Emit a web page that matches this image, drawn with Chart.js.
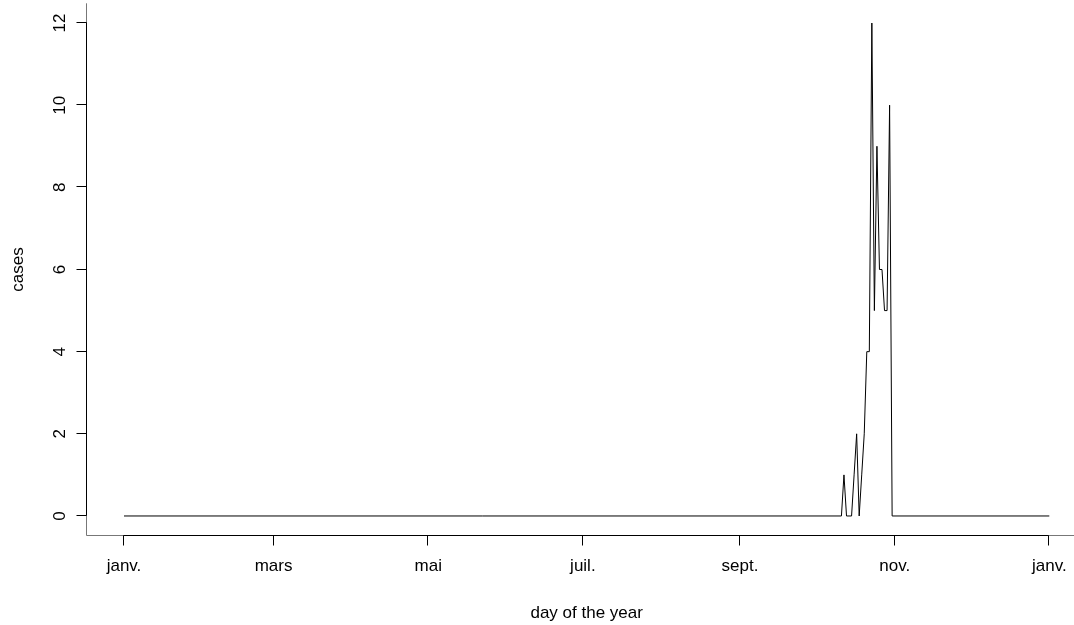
<!DOCTYPE html>
<html>
<head>
<meta charset="utf-8">
<script src="https://cdn.jsdelivr.net/npm/chart.js@4/dist/chart.umd.min.js"></script>
<style>
  html, body { margin: 0; padding: 0; background: #fff; }
  canvas { display: block; }
</style>
</head>
<body>
<canvas id="epi_curve" width="1074" height="625"></canvas>
<script>
// day of the year (0 = 1 Jan) and number of cases reported that day
const reportDays  = [0, 283, 284, 285, 286, 287, 288, 289, 290, 291, 292, 293, 294, 295, 296, 297, 298, 299, 300, 301, 302, 303, 365];
const reportCases = [0, 0, 1, 0, 0, 0, 1, 2, 0, 1, 2, 4, 4, 12, 5, 9, 6, 6, 5, 5, 10, 0, 0];

// month ticks on the x axis
const monthTickDays = [0, 59, 120, 181, 243, 304, 365];
const monthLabels = ['janv.', 'mars', 'mai', 'juil.', 'sept.', 'nov.', 'janv.'];

// y axis ticks
const caseTicks = [0, 2, 4, 6, 8, 10, 12];

const FONT = '17px "Liberation Sans", Arial, Helvetica, sans-serif';

// base-graphics style axes: L shaped box, outward ticks, rotated y labels
const baseAxes = {
    id: 'baseAxes',
    afterDraw(chart) {
        const ctx = chart.ctx;
        const area = chart.chartArea;
        const xs = chart.scales.x;
        const ys = chart.scales.y;
        const tick = 10;

        ctx.save();
        ctx.lineWidth = 1;

        // box (left + bottom only)
        ctx.strokeStyle = '#777';
        ctx.beginPath();
        ctx.moveTo(Math.round(area.left) - 0.5, area.top);
        ctx.lineTo(Math.round(area.left) - 0.5, Math.round(area.bottom) - 0.5);
        ctx.lineTo(area.right, Math.round(area.bottom) - 0.5);
        ctx.stroke();

        ctx.strokeStyle = '#000';
        ctx.fillStyle = '#000';
        ctx.font = FONT;

        // x axis
        const yb = Math.round(area.bottom) - 0.5;
        const xFirst = Math.round(xs.getPixelForValue(monthTickDays[0])) - 0.5;
        const xLast = Math.round(xs.getPixelForValue(monthTickDays[monthTickDays.length - 1])) - 0.5;
        ctx.beginPath();
        ctx.moveTo(xFirst, yb);
        ctx.lineTo(xLast, yb);
        monthTickDays.forEach(d => {
            const px = Math.round(xs.getPixelForValue(d)) - 0.5;
            ctx.moveTo(px, yb);
            ctx.lineTo(px, yb + tick);
        });
        ctx.stroke();

        ctx.textAlign = 'center';
        ctx.textBaseline = 'alphabetic';
        monthTickDays.forEach((d, i) => {
            ctx.fillText(monthLabels[i], xs.getPixelForValue(d), 571);
        });
        // axis title centred on the full year range
        ctx.fillText('day of the year', xs.getPixelForValue(182.5), 618);

        // y axis
        const xl = Math.round(area.left) - 0.5;
        const yTop = Math.round(ys.getPixelForValue(caseTicks[caseTicks.length - 1])) - 0.5;
        const yBot = Math.round(ys.getPixelForValue(caseTicks[0])) - 0.5;
        ctx.beginPath();
        ctx.moveTo(xl, yTop);
        ctx.lineTo(xl, yBot);
        caseTicks.forEach(v => {
            const py = Math.round(ys.getPixelForValue(v)) - 0.5;
            ctx.moveTo(xl, py);
            ctx.lineTo(xl - tick, py);
        });
        ctx.stroke();

        caseTicks.forEach(v => {
            ctx.save();
            ctx.translate(64.5, ys.getPixelForValue(v));
            ctx.rotate(-Math.PI / 2);
            ctx.fillText(String(v), 0, 0);
            ctx.restore();
        });

        ctx.save();
        ctx.translate(23, ys.getPixelForValue(6));
        ctx.rotate(-Math.PI / 2);
        ctx.fillText('cases', 0, 0);
        ctx.restore();

        ctx.restore();
    }
};

const ctx = document.getElementById('epi_curve').getContext('2d');

const config = {
    type: 'line',
    data: {
        datasets: [{
            label: 'cases',
            data: reportDays.map((d, i) => ({ x: d, y: reportCases[i] })),
            borderColor: '#000',
            borderWidth: 1,
            pointRadius: 0,
            tension: 0,
            fill: false
        }]
    },
    options: {
        responsive: false,
        animation: false,
        events: [],
        layout: {
            padding: { left: 87, top: 3.3, right: 0, bottom: 89.3 }
        },
        plugins: {
            legend: { display: false },
            tooltip: { enabled: false }
        },
        scales: {
            x: { type: 'linear', display: false, min: -14.6, max: 374.74 },
            y: { type: 'linear', display: false, min: -0.48, max: 12.48 }
        }
    },
    plugins: [baseAxes]
};

new Chart(ctx, config);
</script>
</body>
</html>
